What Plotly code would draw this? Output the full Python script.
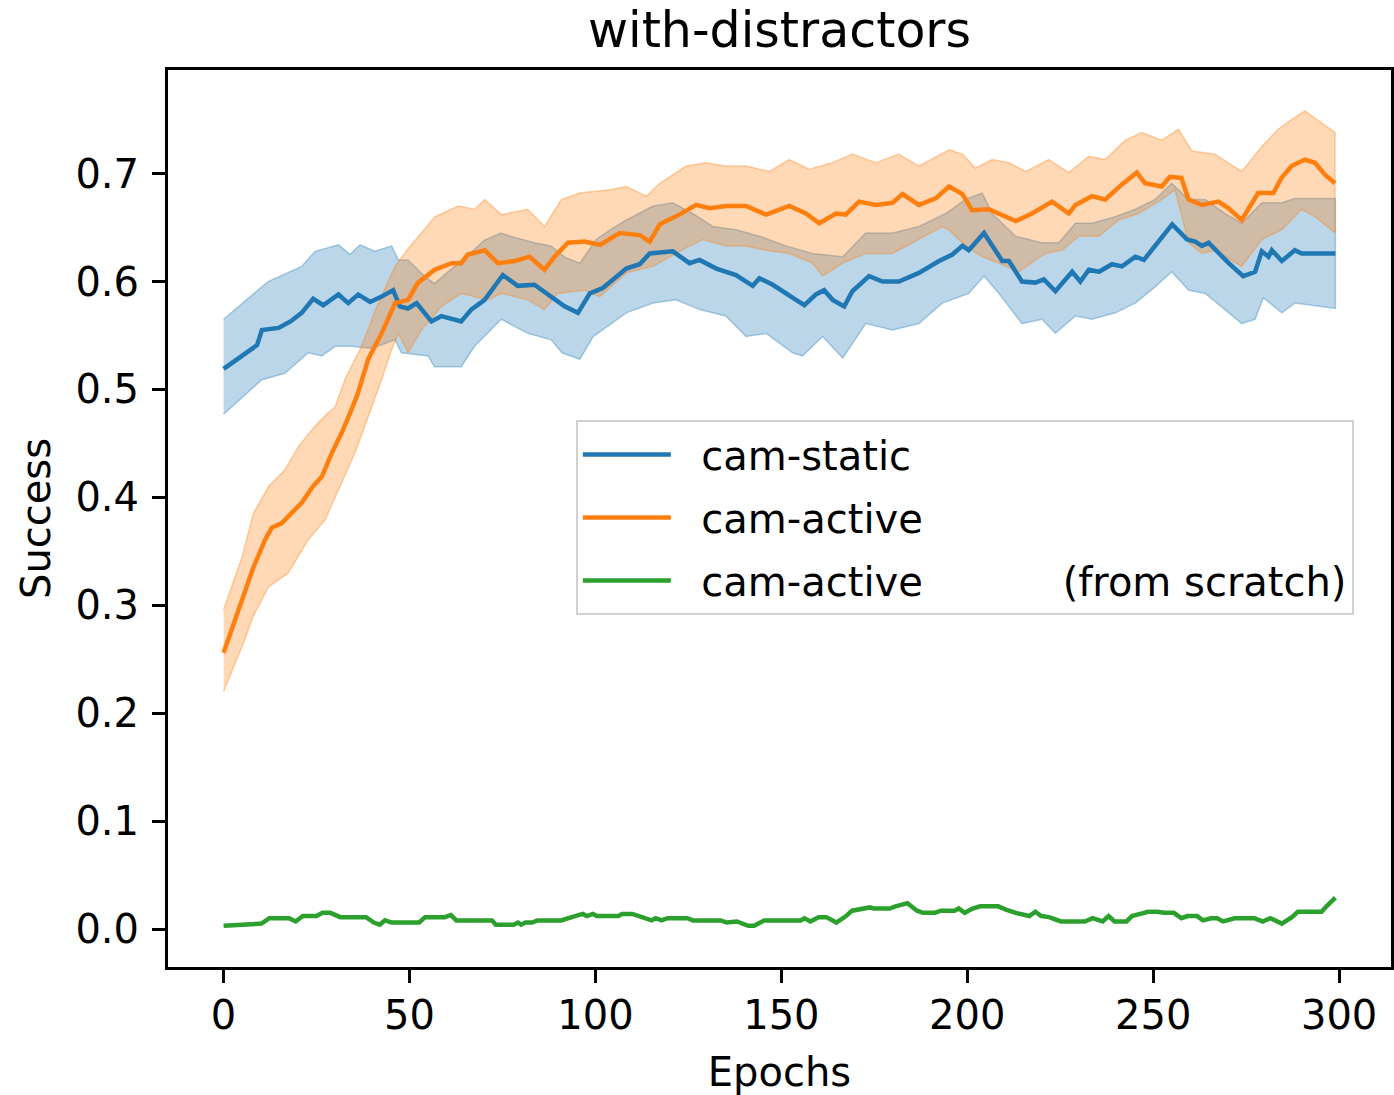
import plotly.graph_objects as go

# ---------------- data ----------------
static_x = [0, 9, 10.3, 14.8, 18, 21, 24.1, 26.8, 30.9, 33.5, 36.2, 39.4, 42.5, 45.6, 47.4, 49.6, 51.9,
            55.9, 58.6, 61.3, 63.9, 66.6, 70.2, 75.1, 79.1, 83.6, 88.1, 91.7, 95.3, 98.5, 102, 105,
            108.3, 111.9, 114.6, 120.8, 125.3, 128, 132.5, 137.8, 142.3, 144.1, 147.7, 153, 156.2,
            159.3, 161.5, 163.8, 166.9, 169.1, 173.6, 177.2, 181.6, 187, 192.4, 196, 198.7, 200.4,
            204.5, 206.2, 209.4, 211.2, 214.7, 218.3, 220.6, 223.7, 228.2, 230.4, 232.7, 235.4,
            238.9, 241.6, 245.2, 247.5, 251.5, 255.1, 259.1, 261.3, 263.1, 264.9, 270.3, 274.2,
            277.4, 279.2, 281, 281.9, 284.6, 288.1, 289.9, 299]
static_mean = [0.519, 0.541, 0.555, 0.557, 0.563, 0.571, 0.584, 0.578, 0.588, 0.580, 0.588, 0.581, 0.586,
               0.592, 0.577, 0.575, 0.580, 0.563, 0.568, 0.566, 0.563, 0.574, 0.583, 0.606, 0.596,
               0.597, 0.586, 0.577, 0.571, 0.589, 0.594, 0.603, 0.612, 0.616, 0.626, 0.628, 0.617,
               0.620, 0.612, 0.606, 0.596, 0.603, 0.597, 0.585, 0.578, 0.588, 0.592, 0.583, 0.577,
               0.591, 0.605, 0.600, 0.600, 0.608, 0.619, 0.625, 0.633, 0.629, 0.645, 0.636, 0.619,
               0.619, 0.600, 0.599, 0.602, 0.591, 0.609, 0.600, 0.611, 0.609, 0.616, 0.614, 0.623,
               0.620, 0.637, 0.653, 0.639, 0.637, 0.633, 0.636, 0.617, 0.605, 0.609, 0.628, 0.623,
               0.629, 0.619, 0.629, 0.626, 0.626]

static_up_x = [0, 9.4, 12, 21, 24.6, 30.9, 34, 36.7, 40.7, 45.2, 47, 49.6, 54, 56.7, 60, 66, 70, 74.6,
               79, 83.6, 88, 92, 95.8, 100.2, 104, 108.3, 115.5, 120.8, 126.2, 131.6, 137.8, 144.1,
               151.3, 158.4, 166.5, 172.7, 179.9, 187, 194.2, 199.5, 204, 206.7, 213, 220.1, 224.6,
               229.1, 233.5, 239.8, 245.2, 250.5, 255, 259.5, 264, 269.3, 273.8, 279.2, 284.6, 288.1, 299]
static_up = [0.565, 0.592, 0.600, 0.614, 0.628, 0.634, 0.625, 0.634, 0.628, 0.633, 0.620, 0.620, 0.605,
             0.598, 0.608, 0.625, 0.638, 0.645, 0.640, 0.636, 0.633, 0.622, 0.617, 0.639, 0.648, 0.657,
             0.670, 0.673, 0.663, 0.651, 0.648, 0.642, 0.633, 0.626, 0.623, 0.645, 0.645, 0.651, 0.663,
             0.676, 0.682, 0.663, 0.642, 0.636, 0.636, 0.654, 0.654, 0.660, 0.667, 0.676, 0.691, 0.676,
             0.676, 0.663, 0.654, 0.673, 0.673, 0.677, 0.677]

static_lo_x = [0, 10.3, 16.5, 22.8, 26.4, 30, 34.4, 39.8, 46.1, 47.8, 55, 56.7, 63.9, 67.5, 74.7, 81.8,
               88.1, 91, 95.8, 99.4, 108.3, 115.5, 121.7, 128, 135.1, 140.5, 145.9, 153, 155.7, 161.1,
               166.5, 172.7, 179.9, 187, 193.3, 200.4, 204.5, 208.5, 214.7, 220.1, 223.7, 229.1, 233.5,
               239.8, 245.2, 250.5, 255, 259.5, 264, 269.3, 273.8, 277.4, 279.6, 284.6, 288.1, 299]
static_lo = [0.477, 0.509, 0.515, 0.534, 0.531, 0.540, 0.540, 0.538, 0.546, 0.534, 0.531, 0.521, 0.521,
             0.540, 0.565, 0.552, 0.546, 0.534, 0.528, 0.549, 0.571, 0.580, 0.583, 0.574, 0.568, 0.549,
             0.552, 0.534, 0.531, 0.549, 0.529, 0.561, 0.555, 0.561, 0.580, 0.589, 0.605, 0.589, 0.561,
             0.565, 0.552, 0.568, 0.565, 0.571, 0.580, 0.595, 0.609, 0.592, 0.589, 0.574, 0.561, 0.565,
             0.585, 0.571, 0.580, 0.575]

active_x = [0, 5, 8, 11.2, 13, 15.6, 18, 21, 24, 26.4, 29.1, 31.8, 34, 36, 38.9, 42.5, 46.1, 49.6, 52.3,
            56.8, 61.3, 63.9, 65.7, 70.2, 73.8, 78.3, 82.3, 86.3, 89, 92.6, 97, 101.2, 106.5, 111.9,
            114.6, 117.3, 122.6, 127.1, 130.7, 135.1, 140.5, 145.9, 152.1, 156.6, 160.2, 164.7, 167.3,
            170.9, 175.4, 179.9, 182.6, 187, 191.5, 195.1, 198.7, 201.3, 205.8, 209.4, 213, 217.4,
            222.8, 227.3, 229.1, 233.5, 237.1, 241.6, 245.6, 247.8, 252.3, 254.5, 257.6, 259.5, 263.1,
            267.5, 270.2, 273.8, 278.2, 282.3, 284.5, 287.2, 290.8, 293.5, 296.2, 298.9]
active_mean = [0.256, 0.305, 0.335, 0.361, 0.372, 0.376, 0.385, 0.395, 0.410, 0.419, 0.441, 0.460, 0.478,
               0.495, 0.528, 0.552, 0.580, 0.583, 0.599, 0.611, 0.617, 0.617, 0.625, 0.629, 0.617,
               0.619, 0.623, 0.611, 0.623, 0.636, 0.637, 0.634, 0.645, 0.643, 0.637, 0.653, 0.662,
               0.671, 0.668, 0.670, 0.670, 0.662, 0.670, 0.663, 0.654, 0.663, 0.662, 0.674, 0.671,
               0.673, 0.681, 0.671, 0.677, 0.688, 0.681, 0.666, 0.667, 0.662, 0.656, 0.663, 0.674,
               0.663, 0.671, 0.679, 0.676, 0.690, 0.701, 0.691, 0.688, 0.697, 0.696, 0.676, 0.671,
               0.674, 0.668, 0.657, 0.682, 0.682, 0.696, 0.707, 0.713, 0.710, 0.699, 0.691]

active_up_x = [0, 5, 8, 12.1, 16.6, 20.1, 24.6, 28, 30, 32.6, 37.1, 41, 46.1, 50, 53.2, 56.8, 63.1, 67.5,
               70.2, 74.7, 81.8, 86.3, 90.8, 95.8, 103.8, 108.3, 113.7, 117.3, 124.4, 129.7, 135.1,
               140.5, 146.8, 152.1, 157.5, 163.7, 169.1, 175.4, 181.6, 187, 195.1, 198.7, 202.2, 206.7,
               211.2, 215.7, 221.9, 227.3, 232.7, 237.1, 242.5, 246.9, 252.3, 256.8, 260.4, 266.6,
               273.8, 279.2, 283.6, 287.2, 290.8, 295.3, 298.9]
active_up = [0.296, 0.345, 0.385, 0.410, 0.426, 0.447, 0.466, 0.478, 0.484, 0.509, 0.540, 0.575, 0.614,
             0.632, 0.645, 0.660, 0.670, 0.667, 0.676, 0.662, 0.667, 0.651, 0.676, 0.682, 0.685, 0.688,
             0.679, 0.691, 0.707, 0.710, 0.707, 0.707, 0.702, 0.713, 0.704, 0.710, 0.718, 0.710, 0.718,
             0.707, 0.722, 0.718, 0.705, 0.713, 0.710, 0.702, 0.713, 0.701, 0.716, 0.713, 0.731, 0.738,
             0.731, 0.741, 0.721, 0.718, 0.702, 0.725, 0.741, 0.750, 0.758, 0.747, 0.738]

active_lo_x = [0, 5, 8, 12.1, 17.4, 22.8, 27.3, 30.9, 35.3, 38.9, 42.5, 45, 47, 49.6, 53.2, 58.6, 63.9,
               71.1, 74.7, 81.8, 86.3, 89.9, 97, 101.2, 108.3, 115.5, 122.6, 128.9, 135.1, 140.5, 145.9,
               152.1, 158.4, 161.1, 166.5, 172.7, 179.9, 187, 193.3, 195, 199.5, 204, 208.5, 213.8, 221,
               225.5, 230, 235.4, 240.7, 246.1, 252.3, 255.9, 259.5, 263.1, 266.6, 273.8, 279.2, 284.6,
               289.9, 293.5, 298.9]
active_lo = [0.220, 0.262, 0.290, 0.317, 0.330, 0.361, 0.379, 0.407, 0.441, 0.475, 0.509, 0.535, 0.552,
             0.534, 0.555, 0.577, 0.589, 0.583, 0.589, 0.583, 0.574, 0.589, 0.592, 0.586, 0.608, 0.614,
             0.628, 0.639, 0.633, 0.633, 0.629, 0.626, 0.617, 0.605, 0.617, 0.626, 0.626, 0.639, 0.651,
             0.648, 0.633, 0.623, 0.617, 0.609, 0.626, 0.629, 0.642, 0.642, 0.657, 0.663, 0.676, 0.685,
             0.636, 0.626, 0.629, 0.614, 0.639, 0.648, 0.667, 0.660, 0.645]

scratch_x = [0, 10.2, 12.3, 17.6, 19.4, 21.3, 25, 26.6, 28.7, 31.4, 38.3, 40.4, 42, 43.4, 45.2, 52.6,
             54.2, 59.5, 61.1, 62.6, 72.2, 73.2, 78, 79.2, 80, 81.2, 83, 84.4, 90.8, 92.4, 94.5, 96.6,
             97.7, 99.3, 100.4, 106.2, 107.2, 109.9, 112.5, 115.1, 116.2, 117.8, 119.4, 124.7, 126.3,
             133.7, 135.3, 138, 141.1, 142.7, 145.4, 155.2, 156.2, 157.8, 160, 162.1, 164.8, 167.4,
             169, 171.7, 173.8, 174.8, 179.1, 180.7, 183.9, 186.5, 188.1, 191.3, 192.9, 196.6, 197.7,
             199.3, 201.4, 203.5, 208.3, 210.4, 213, 216.7, 218.3, 219.9, 222, 225.2, 231.6, 233.7,
             236.4, 238, 239.6, 242.8, 244.3, 246.5, 248.6, 251.2, 252.8, 255.5, 257.6, 259.2, 261.8,
             263.4, 265.6, 267.2, 268.8, 271.9, 277.2, 279.4, 281.5, 284.6, 287.3, 288.9, 295.3, 296.6, 299]
scratch_mean = [0.003, 0.005, 0.010, 0.010, 0.007, 0.012, 0.012, 0.015, 0.015, 0.011, 0.011, 0.006, 0.004,
                0.008, 0.006, 0.006, 0.011, 0.011, 0.013, 0.008, 0.008, 0.004, 0.004, 0.006, 0.004,
                0.006, 0.006, 0.008, 0.008, 0.010, 0.012, 0.014, 0.012, 0.014, 0.012, 0.012, 0.014,
                0.014, 0.011, 0.008, 0.010, 0.008, 0.010, 0.010, 0.008, 0.008, 0.006, 0.007, 0.003,
                0.003, 0.008, 0.008, 0.010, 0.007, 0.011, 0.011, 0.006, 0.012, 0.017, 0.019, 0.020,
                0.019, 0.019, 0.021, 0.024, 0.017, 0.015, 0.015, 0.017, 0.017, 0.019, 0.015, 0.019,
                0.021, 0.021, 0.018, 0.015, 0.012, 0.016, 0.012, 0.011, 0.007, 0.007, 0.010, 0.007,
                0.012, 0.007, 0.007, 0.012, 0.014, 0.016, 0.016, 0.015, 0.015, 0.010, 0.012, 0.012,
                0.008, 0.010, 0.010, 0.007, 0.010, 0.010, 0.007, 0.010, 0.005, 0.011, 0.016, 0.016,
                0.021, 0.029]

series_names = ["cam-static", "cam-active", "cam-active" + "\u00a0" * 11 + "(from scratch)"]
x_ticks = [0, 50, 100, 150, 200, 250, 300]
y_ticks = [0.0, 0.1, 0.2, 0.3, 0.4, 0.5, 0.6, 0.7]

# ---------------- styles ----------------
BLUE, ORANGE, GREEN = "#1f77b4", "#ff7f0e", "#2ca02c"
FONT = "DejaVu Sans"
NB = "\u00a0\u00a0"  # gap between legend line sample and text

fig = go.Figure()


def band(xu, yu, xl, yl, rgb):
    fig.add_trace(go.Scatter(
        x=list(xu) + list(xl)[::-1], y=list(yu) + list(yl)[::-1],
        fill="toself", mode="lines",
        fillcolor=f"rgba({rgb},0.3)",
        line=dict(color=f"rgba({rgb},0.35)", width=1.5),
        showlegend=False, hoverinfo="skip"))


band(static_up_x, static_up, static_lo_x, static_lo, "31,119,180")
band(active_up_x, active_up, active_lo_x, active_lo, "255,127,14")

for i, (xs, ys, name, col) in enumerate([(static_x, static_mean, series_names[0], BLUE),
                                         (active_x, active_mean, series_names[1], ORANGE),
                                         (scratch_x, scratch_mean, series_names[2], GREEN)]):
    fig.add_trace(go.Scatter(x=xs, y=ys, mode="lines", name=NB + name, legendgroup=f"g{i}",
                             line=dict(color=col, width=4.5)))

axis_common = dict(showline=True, mirror=True, linecolor="black", linewidth=3,
                   ticks="outside", ticklen=13, tickwidth=3, tickcolor="black",
                   showgrid=False, zeroline=False, automargin=False,
                   tickfont=dict(family=FONT, size=40, color="black"))

fig.update_layout(
    width=1394, height=1095,
    margin=dict(l=168, r=3, t=70, b=128),
    paper_bgcolor="white", plot_bgcolor="white",
    font=dict(family=FONT, size=40, color="black"),
    title=dict(text="with-distractors", x=0.5, xref="paper",
               y=1 - 30 / 1095, yref="container", yanchor="middle",
               font=dict(family=FONT, size=49, color="black")),
    xaxis=dict(range=[-14.95, 313.95], tickvals=x_ticks,
               ticktext=[str(v) for v in x_ticks], ticklabelstandoff=-2,
               title=dict(text="Epochs", standoff=21, font=dict(family=FONT, size=40)),
               **axis_common),
    yaxis=dict(range=[-0.0352, 0.796], tickvals=y_ticks,
               ticktext=[f"{v:.1f}" for v in y_ticks], ticklabelstandoff=5,
               title=dict(text="Success", standoff=13, font=dict(family=FONT, size=40)),
               **axis_common),
    legend=dict(x=0.3335, y=0.6098, xanchor="left", yanchor="top",
                bgcolor="rgba(255,255,255,0.8)", bordercolor="#d0d0d0", borderwidth=2,
                font=dict(family=FONT, size=40, color="black"),
                itemwidth=88, tracegroupgap=8),
)

fig.write_html("out.html", config={"displayModeBar": False},
               post_script="document.body.style.margin='0';")
